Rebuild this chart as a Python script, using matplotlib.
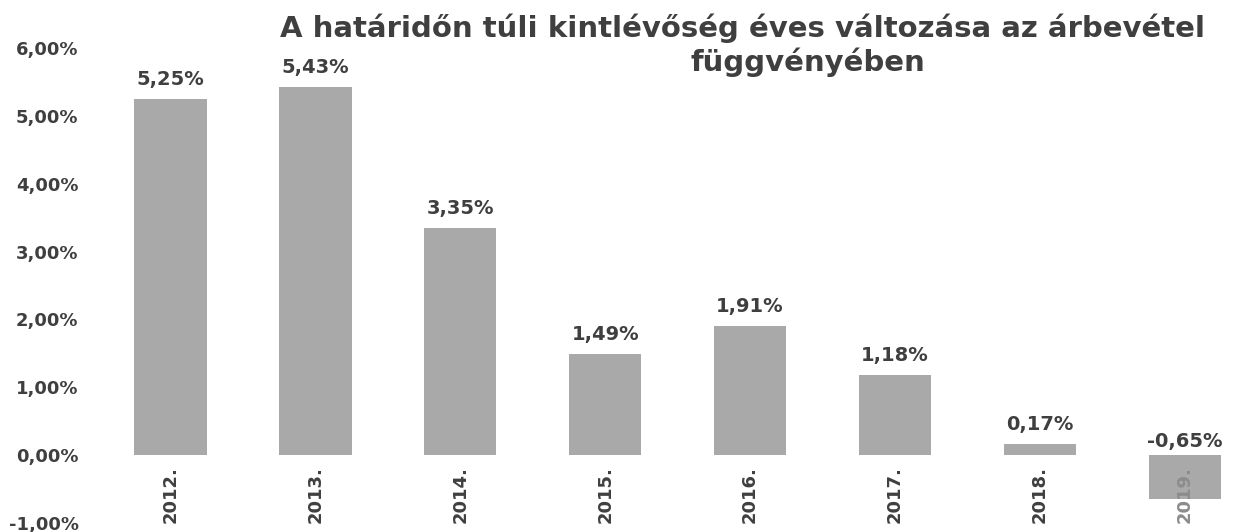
import matplotlib
matplotlib.use('Agg')
import matplotlib.pyplot as plt
from matplotlib.ticker import FuncFormatter

years = ['2012.', '2013.', '2014.', '2015.', '2016.', '2017.', '2018.', '2019.']
values = [5.25, 5.43, 3.35, 1.49, 1.91, 1.18, 0.17, -0.65]
yticks = [-1, 0, 1, 2, 3, 4, 5, 6]

TEXT = '#3f3f3f'
BAR = '#a9a9a9'


def pct(v, _=None):
    return f'{v:.2f}%'.replace('.', ',')


fig = plt.figure(figsize=(12.34, 5.32), dpi=100, facecolor='white')
ax = fig.add_axes([98 / 1234, 9 / 532, 1 - 98 / 1234, 475 / 532])

x = list(range(len(years)))
ax.bar(x, values, width=0.5, color=BAR, zorder=1)

ax.set_xlim(-0.5, 7.34)
ax.set_ylim(-1, 6)
ax.set_yticks(yticks)
ax.yaxis.set_major_formatter(FuncFormatter(pct))
ax.set_xticks(x)
ax.set_xticklabels(years)

for s in ax.spines.values():
    s.set_visible(False)
ax.spines['bottom'].set_position(('data', 0))
ax.tick_params(length=0)
ax.tick_params(axis='y', pad=14, labelsize=13, labelcolor=TEXT)
ax.tick_params(axis='x', pad=8, labelsize=13, labelcolor=TEXT, labelrotation=90)
for lbl in ax.get_xticklabels() + ax.get_yticklabels():
    lbl.set_fontweight('bold')
# the last year label overlaps its negative bar and shows up lighter
ax.get_xticklabels()[-1].set_color('#8c8c8c')

# value labels above each bar (negative one sits just above the zero line)
for xi, v in zip(x, values):
    off = 7 if v >= 0 else 3
    ax.annotate(pct(v), (xi, max(v, 0)), xytext=(0, off),
                textcoords='offset points', ha='center', va='bottom',
                fontsize=14, fontweight='bold', color=TEXT)

fig.text(743 / 1234, 1 - 28 / 532,
         'A határidőn túli kintlévőség éves változása az árbevétel',
         ha='center', va='center', fontsize=21, fontweight='bold', color=TEXT)
fig.text(808 / 1234, 1 - 62 / 532, 'függvényében',
         ha='center', va='center', fontsize=21, fontweight='bold', color=TEXT)

fig.savefig('out.png', dpi=100, facecolor='white')
